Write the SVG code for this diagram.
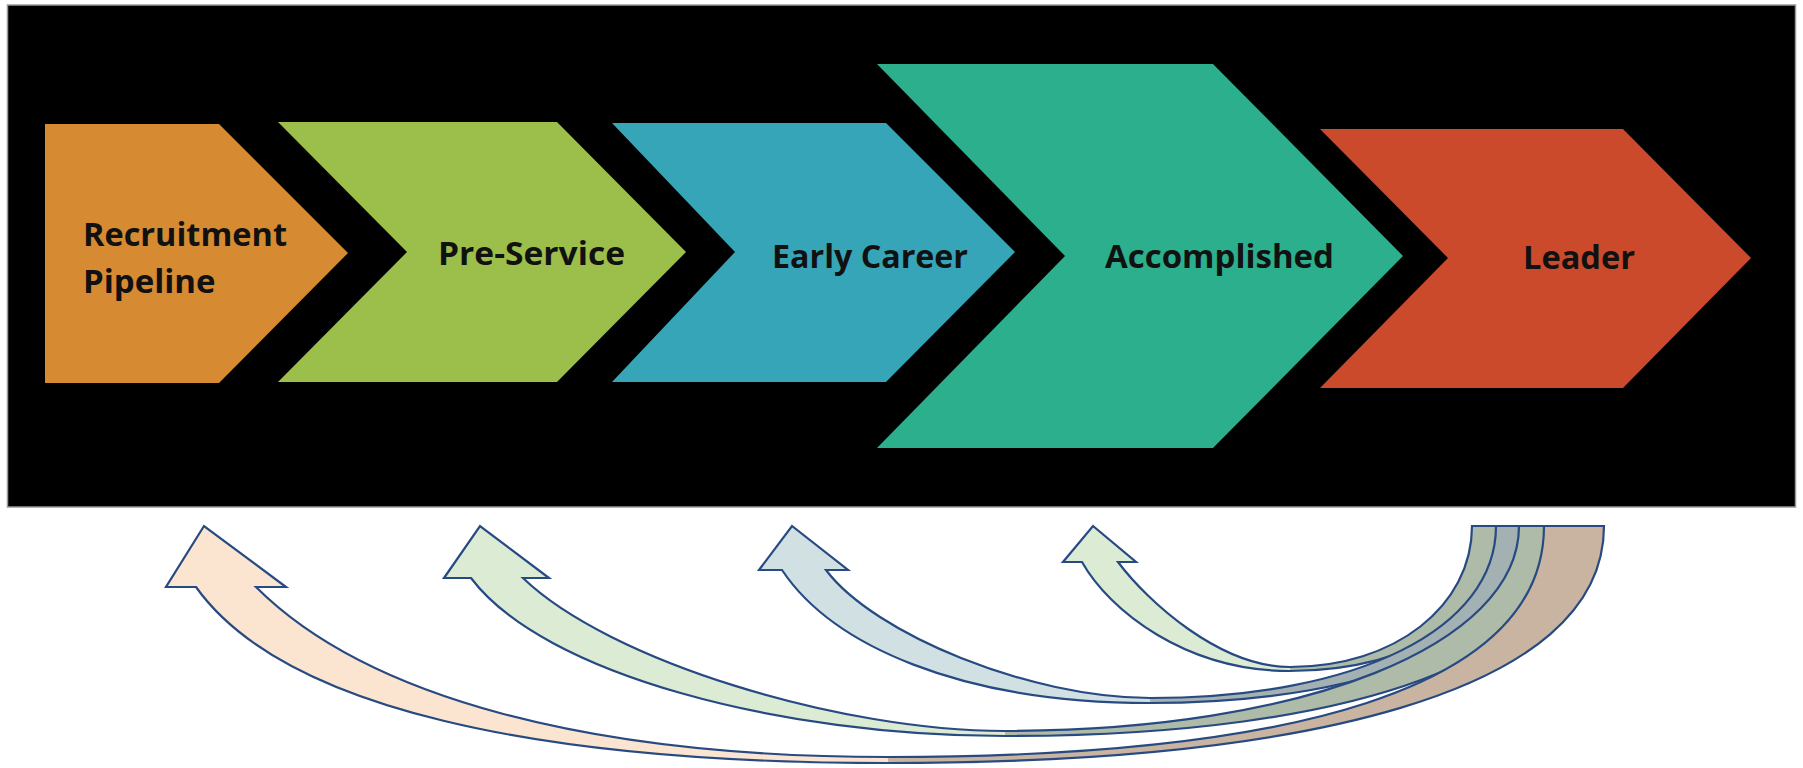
<svg xmlns="http://www.w3.org/2000/svg" width="1803" height="768" viewBox="0 0 1803 768">
<style>
.lbl{font-family:"Open Sans","Liberation Sans",sans-serif;font-weight:700;font-size:33px;fill:#111}
.ol{fill:none;stroke:#284A82;stroke-width:2.2;stroke-linejoin:miter}
.gL{fill:#DCEBD4}.gD{fill:#AEBBA8}
.bL{fill:#D0E0E3}.bD{fill:#A3B1B3}
.pL{fill:#FBE5D0}.pD{fill:#C8B4A0}
</style>
<rect x="0" y="0" width="1803" height="768" fill="#FFFFFF"/>
<rect id="panel" x="7.5" y="5" width="1788" height="502" fill="#000000" stroke="#9A9A9A" stroke-width="1.5"/>

<g id="recruitment">
<polygon points="45,124 219,124 348,253 219,383 45,383" fill="#D68B33"/>
<text class="lbl" x="83" y="246" textLength="204" lengthAdjust="spacingAndGlyphs">Recruitment</text>
<text class="lbl" x="83" y="293">Pipeline</text>
</g>
<g id="preservice">
<polygon points="278,122 557,122 686,252 557,382 278,382 407,252" fill="#9BBF4A"/>
<text class="lbl" x="438" y="265" textLength="187" lengthAdjust="spacingAndGlyphs">Pre-Service</text>
</g>
<g id="earlycareer">
<polygon points="612,123 886,123 1015,252 886,382 612,382 735,252" fill="#36A5B7"/>
<text class="lbl" x="772" y="268" textLength="196" lengthAdjust="spacingAndGlyphs">Early Career</text>
</g>
<g id="accomplished">
<polygon points="877,64 1213,64 1403,256 1213,448 877,448 1065,256" fill="#2BAF8D"/>
<text class="lbl" x="1105" y="268" textLength="229" lengthAdjust="spacingAndGlyphs">Accomplished</text>
</g>
<g id="leader">
<polygon points="1320,129 1623,129 1751,258 1623,388 1320,388 1448,258" fill="#CB4A2C"/>
<text class="lbl" x="1523" y="269" textLength="112" lengthAdjust="spacingAndGlyphs">Leader</text>
</g>

<g id="connectors">
<g id="arrow-accomplished">
<path class="gL" d="M1290,671 C1185,671 1109,610 1082,562 L1063,562 L1093,526 L1136,562 L1118,562 C1148,602 1220,667 1290,667 Z"/>
<path class="gD" d="M1508,526 C1508,610 1416,671 1290,671 L1290,667 C1395,667 1472,606 1472,526 Z"/>
<path class="ol" d="M1508,526 C1508,610 1416,671 1290,671 C1185,671 1109,610 1082,562 L1063,562 L1093,526 L1136,562 L1118,562 C1148,602 1220,667 1290,667 C1395,667 1472,606 1472,526 Z"/>
</g>
<g id="arrow-earlycareer">
<path class="bL" d="M1150,703 C960,703 832,645 782,570 L759,570 L792,526 L848,570 L826,570 C874,634 1030,698 1150,698 Z"/>
<path class="bD" d="M1540,526 C1540,632 1384,703 1150,703 L1150,698 C1358,698 1496,629 1496,526 Z"/>
<path class="ol" d="M1540,526 C1540,632 1384,703 1150,703 C960,703 832,645 782,570 L759,570 L792,526 L848,570 L826,570 C874,634 1030,698 1150,698 C1358,698 1496,629 1496,526 Z"/>
</g>
<g id="arrow-preservice">
<path class="gL" d="M1005,736 C780,736 543,674 471,578 L444,578 L480,526 L549,578 L523,578 C609,661 840,731 1005,731 Z"/>
<path class="gD" d="M1572,526 C1572,656 1360,736 1005,736 L1005,731 C1305,731 1519,645 1519,526 Z"/>
<path class="ol" d="M1572,526 C1572,656 1360,736 1005,736 C780,736 543,674 471,578 L444,578 L480,526 L549,578 L523,578 C609,661 840,731 1005,731 C1305,731 1519,645 1519,526 Z"/>
</g>
<g id="arrow-recruitment">
<path class="pL" d="M888,763 C538,763 283,709 196,587 L166,587 L204,526 L286,587 L256,587 C366,697 588,757 888,757 Z"/>
<path class="pD" d="M1604,526 C1604,695 1300,763 888,763 L888,757 C1290,757 1544,690 1544,526 Z"/>
<path class="ol" d="M1604,526 C1604,695 1300,763 888,763 C538,763 283,709 196,587 L166,587 L204,526 L286,587 L256,587 C366,697 588,757 888,757 C1290,757 1544,690 1544,526 Z"/>
</g>
</g>
</svg>
